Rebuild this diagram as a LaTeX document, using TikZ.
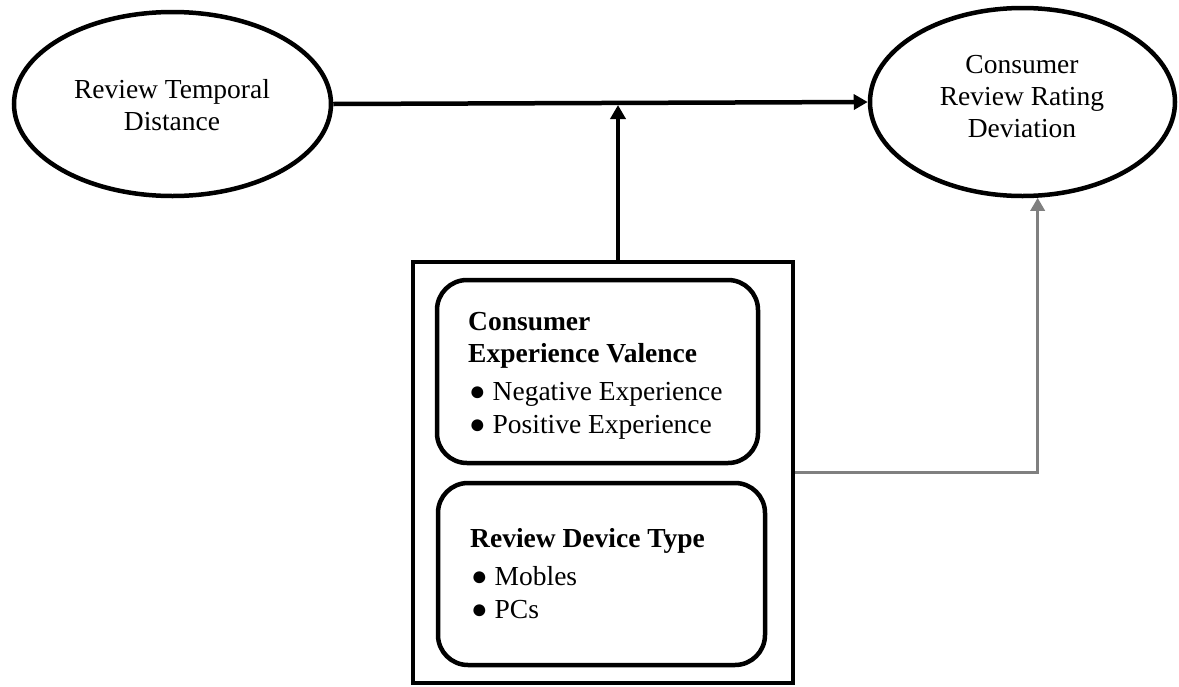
\documentclass[tikz,border=0pt]{standalone}
\usepackage{fontspec}
\setmainfont{Liberation Serif}
\usetikzlibrary{arrows.meta,shapes.geometric}

\begin{document}
\begin{tikzpicture}[x=1pt,y=-1pt,
  txt/.style={inner sep=0pt,anchor=base,font=\fontsize{27.5}{32.5}\selectfont},
  ltxt/.style={inner sep=0pt,anchor=base west,font=\fontsize{27.5}{32.5}\selectfont},
  htxt/.style={ltxt,font=\fontsize{27.5}{32.5}\selectfont\bfseries},
  oval/.style={draw,ellipse,line width=4.5pt,inner sep=0pt},
  panel/.style={draw,rectangle,line width=4.5pt,inner sep=0pt},
  group/.style={draw,rectangle,rounded corners=30pt,line width=4.5pt,inner sep=0pt},
  arr/.style={line width=4.5pt,-{Triangle[length=14pt,width=15pt]}},
  garr/.style={line width=3.5pt,draw={rgb,255:red,128;green,128;blue,128},
               -{Triangle[length=13pt,width=14pt]}}
]
\useasboundingbox (0,0) rectangle (1179,686);

% outcome and predictor
\node[oval,minimum width=317pt,minimum height=184pt] (L) at (172.5,104) {};
\node[txt] (l1) at (172,98) {Review Temporal};
\node[txt] (l2) at (172,130.5) {Distance};

\node[oval,minimum width=305pt,minimum height=188pt] (R) at (1022.5,102) {};
\node[txt] (r1) at (1022,73) {Consumer};
\node[txt] (r2) at (1022,105) {Review Rating};
\node[txt] (r3) at (1022,137) {Deviation};

% moderator panel
\node[panel,minimum width=380pt,minimum height=421pt] (box) at (603,472.5) {};
\node[group,minimum width=321pt,minimum height=183pt] (g1) at (597.5,371.5) {};
\node[group,minimum width=327pt,minimum height=182pt] (g2) at (601.5,574) {};

\node[htxt] (h1a) at (468,330) {Consumer};
\node[htxt] (h1b) at (468,362.5) {Experience Valence};
\node[ltxt] (b1a) at (469,400) {● Negative Experience};
\node[ltxt] (b1b) at (469,433) {● Positive Experience};

\node[htxt] (h2) at (470,547) {Review Device Type};
\node[ltxt] (b2a) at (471,585) {● Mobles};
\node[ltxt] (b2b) at (471,618) {● PCs};

% connectors
\coordinate (m) at (618,105);
\draw[arr] (L.east) -- (R.west);
\draw[arr] (box.north -| m) -- (m);
\draw[garr] (box.east) -| (R.-81);
\end{tikzpicture}
\end{document}
